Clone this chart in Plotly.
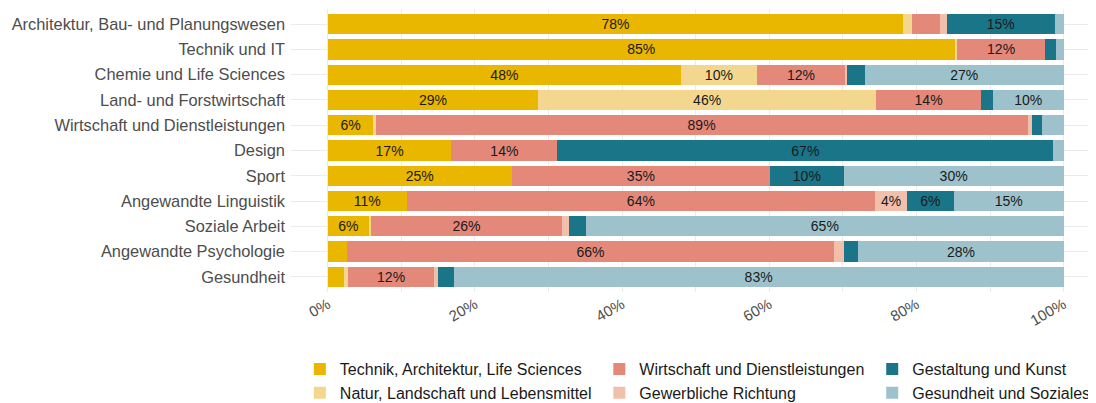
import plotly.graph_objects as go

# --- DATI ---
fachbereiche = [
    "Architektur, Bau- und Planungswesen", "Technik und IT", "Chemie und Life Sciences",
    "Land- und Forstwirtschaft", "Wirtschaft und Dienstleistungen", "Design", "Sport",
    "Angewandte Linguistik", "Soziale Arbeit", "Angewandte Psychologie", "Gesundheit",
]

technik = [78.2, 85.2, 48.0, 28.6, 6.2, 16.8, 25.0, 10.7, 5.6, 2.6, 2.2]
natur = [1.2, 0.3, 10.3, 45.9, 0.3, 0.0, 0.0, 0.0, 0.3, 0.0, 0.5]
wirtschaft = [3.8, 12.0, 12.0, 14.3, 88.6, 14.4, 35.1, 63.7, 25.9, 66.2, 11.8]
gewerblich = [0.9, 0.0, 0.2, 0.0, 0.6, 0.0, 0.0, 4.3, 1.0, 1.3, 0.5]
gestaltung = [14.7, 1.4, 2.5, 1.6, 1.3, 67.4, 10.0, 6.4, 2.3, 2.0, 2.1]
gesundheit = [1.2, 1.1, 27.0, 9.6, 3.0, 1.4, 29.9, 14.9, 64.9, 27.9, 82.9]

serien = [
    ("Technik, Architektur, Life Sciences", technik, "#E9B600", "legend"),
    ("Natur, Landschaft und Lebensmittel", natur, "#F4D78F", "legend"),
    ("Wirtschaft und Dienstleistungen", wirtschaft, "#E4887A", "legend2"),
    ("Gewerbliche Richtung", gewerblich, "#F2BFAA", "legend2"),
    ("Gestaltung und Kunst", gestaltung, "#1A7589", "legend3"),
    ("Gesundheit und Soziales", gesundheit, "#9DC2CB", "legend3"),
]

x_ticks = [0, 20, 40, 60, 80, 100]
x_labels = ["0%", "20%", "40%", "60%", "80%", "100%"]

SOGLIA_TESTO = 4.0  # sotto questa quota niente etichetta
FONT = "Liberation Sans, Arial"

fig = go.Figure()
for i, (nome, valori, colore, leg) in enumerate(serien):
    testi = [f"{round(v)}%" if v >= SOGLIA_TESTO else "" for v in valori]
    fig.add_trace(go.Bar(
        x=valori, y=fachbereiche, orientation="h", name=nome,
        marker=dict(color=colore, line=dict(width=0)),
        text=testi, textposition="inside", insidetextanchor="middle",
        textangle=0, constraintext="none",
        textfont=dict(size=14, color="#1a1a1a", family=FONT),
        legend=leg, legendgroup=f"g{i}",
    ))

grid = "#EBEBEB"
leg_style = dict(
    orientation="v", traceorder="normal", yanchor="top", y=-0.212, xanchor="left",
    font=dict(size=16, color="#1a1a1a", family=FONT),
    bgcolor="rgba(0,0,0,0)", tracegroupgap=6, itemwidth=30,
)

# la pagina html ha 8px di margine nel body: si compensa qui
fig.update_layout(
    width=1088, height=395,
    barmode="stack", bargap=0.2,
    plot_bgcolor="white", paper_bgcolor="white",
    margin=dict(l=283, r=0, t=1, b=111, autoexpand=False),
    font=dict(family=FONT, color="#4d4d4d"),
    xaxis=dict(
        range=[-5, 104.4], tickvals=x_ticks, ticktext=x_labels, tickangle=-30,
        tickfont=dict(size=15, color="#4d4d4d"),
        showgrid=True, gridcolor=grid, gridwidth=1, zeroline=False,
        minor=dict(tickvals=[10, 30, 50, 70, 90], showgrid=True, gridcolor=grid, gridwidth=1),
        showline=False, fixedrange=True, automargin=False,
    ),
    yaxis=dict(
        categoryorder="array", categoryarray=fachbereiche,
        range=[10.6, -0.6],
        tickfont=dict(size=16.4, color="#4d4d4d"),
        showgrid=True, gridcolor=grid, gridwidth=1,
        ticks="", ticklabelstandoff=5, showline=False, automargin=False,
    ),
    legend=dict(leg_style, x=0.011),
    legend2=dict(leg_style, x=0.383),
    legend3=dict(leg_style, x=0.722),
)

fig.write_html("out.html")
